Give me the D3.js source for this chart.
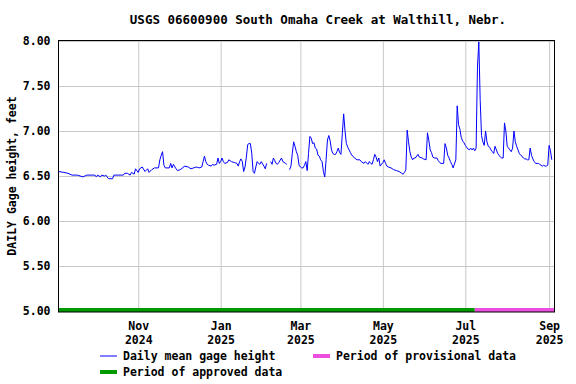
<!DOCTYPE html>
<html>
<head>
<meta charset="utf-8">
<script src="https://cdn.jsdelivr.net/npm/d3@7"></script>
<style>
  body { margin: 0; background: #fff; }
  text { font-family: "DejaVu Sans Mono", monospace; font-weight: bold; fill: #000; }
</style>
</head>
<body>
<script>
'use strict';

// daily mean gage height, feet
const dates = [
  "2024-09-03","2024-09-07","2024-09-10","2024-09-13","2024-09-17","2024-09-21","2024-09-24","2024-09-30",
  "2024-10-01","2024-10-02","2024-10-04","2024-10-05","2024-10-07","2024-10-08","2024-10-10","2024-10-13",
  "2024-10-14","2024-10-21","2024-10-22","2024-10-24","2024-10-26","2024-10-27","2024-10-29","2024-10-30",
  "2024-11-01","2024-11-02","2024-11-04","2024-11-06","2024-11-08","2024-11-09","2024-11-11","2024-11-13",
  "2024-11-16","2024-11-17","2024-11-18","2024-11-19","2024-11-20","2024-11-21","2024-11-24","2024-11-25",
  "2024-11-26","2024-11-27","2024-11-29","2024-11-30",
  "2024-12-02","2024-12-04","2024-12-05","2024-12-08","2024-12-10","2024-12-12","2024-12-14","2024-12-16",
  "2024-12-18","2024-12-19","2024-12-20","2024-12-21","2024-12-22","2024-12-23","2024-12-25","2024-12-26",
  "2024-12-27","2024-12-29","2024-12-30","2024-12-31",
  "2025-01-01","2025-01-02","2025-01-03","2025-01-04","2025-01-06","2025-01-07","2025-01-09","2025-01-11",
  "2025-01-13","2025-01-14","2025-01-15","2025-01-16","2025-01-17","2025-01-18","2025-01-19","2025-01-20",
  "2025-01-21","2025-01-22","2025-01-23","2025-01-24","2025-01-25","2025-01-26","2025-01-27","2025-01-28",
  "2025-01-29","2025-01-30","2025-01-31",
  "2025-02-02","2025-02-03","2025-02-04","2025-02-05","2025-02-06","2025-02-07","2025-02-08","2025-02-09",
  "2025-02-10","2025-02-11","2025-02-12","2025-02-13","2025-02-15","2025-02-16","2025-02-18","2025-02-19",
  "2025-02-20","2025-02-21","2025-02-22","2025-02-23","2025-02-24","2025-02-25","2025-02-26","2025-02-27",
  "2025-02-28",
  "2025-03-01","2025-03-02","2025-03-03","2025-03-04","2025-03-05","2025-03-06","2025-03-07","2025-03-08",
  "2025-03-09","2025-03-10","2025-03-11","2025-03-12","2025-03-13","2025-03-14","2025-03-15","2025-03-16",
  "2025-03-17","2025-03-18","2025-03-19","2025-03-20","2025-03-21","2025-03-22","2025-03-23","2025-03-24",
  "2025-03-25","2025-03-26","2025-03-27","2025-03-28","2025-03-29","2025-03-30","2025-03-31",
  "2025-04-01","2025-04-02","2025-04-03","2025-04-04","2025-04-05","2025-04-06","2025-04-07","2025-04-08",
  "2025-04-09","2025-04-10","2025-04-12","2025-04-14","2025-04-15","2025-04-17","2025-04-18","2025-04-20",
  "2025-04-21","2025-04-22","2025-04-23","2025-04-24","2025-04-25","2025-04-26","2025-04-27","2025-04-28",
  "2025-04-29","2025-04-30",
  "2025-05-01","2025-05-02","2025-05-03","2025-05-04","2025-05-05","2025-05-07","2025-05-09","2025-05-11",
  "2025-05-13","2025-05-15","2025-05-16","2025-05-17","2025-05-18","2025-05-19","2025-05-20","2025-05-21",
  "2025-05-22","2025-05-23","2025-05-24","2025-05-25","2025-05-27","2025-05-28","2025-05-30","2025-05-31",
  "2025-06-02","2025-06-03","2025-06-04","2025-06-05","2025-06-06","2025-06-07","2025-06-08","2025-06-10",
  "2025-06-11","2025-06-12","2025-06-13","2025-06-15","2025-06-16","2025-06-17","2025-06-18","2025-06-19",
  "2025-06-20","2025-06-21","2025-06-22","2025-06-24","2025-06-25","2025-06-26","2025-06-27","2025-06-28",
  "2025-06-29","2025-06-30",
  "2025-07-01","2025-07-02","2025-07-03","2025-07-04","2025-07-05","2025-07-06","2025-07-07","2025-07-08",
  "2025-07-09","2025-07-10","2025-07-11","2025-07-12","2025-07-13","2025-07-14","2025-07-15","2025-07-16",
  "2025-07-17","2025-07-18","2025-07-19","2025-07-20","2025-07-21","2025-07-22","2025-07-23","2025-07-24",
  "2025-07-25","2025-07-26","2025-07-27","2025-07-28","2025-07-29","2025-07-30","2025-07-31",
  "2025-08-01","2025-08-02","2025-08-03","2025-08-04","2025-08-05","2025-08-06","2025-08-07","2025-08-08",
  "2025-08-09","2025-08-10","2025-08-11","2025-08-12","2025-08-13","2025-08-14","2025-08-15","2025-08-16",
  "2025-08-17","2025-08-18","2025-08-19","2025-08-20","2025-08-21","2025-08-22","2025-08-24","2025-08-25",
  "2025-08-26","2025-08-27","2025-08-28","2025-08-29","2025-08-30","2025-08-31",
  "2025-09-01","2025-09-02","2025-09-03"
];
const gage = [
  6.55,6.54,6.53,6.51,6.51,6.49,6.51,6.51,
  6.49,6.51,6.49,6.51,6.50,6.51,6.47,6.47,
  6.51,6.51,6.53,6.53,6.51,6.54,6.52,6.58,
  6.54,6.58,6.60,6.55,6.58,6.54,6.57,6.59,
  6.59,6.68,6.73,6.77,6.62,6.59,6.59,6.64,
  6.59,6.63,6.58,6.56,
  6.57,6.59,6.61,6.60,6.58,6.59,6.60,6.59,
  6.60,6.66,6.72,6.66,6.63,6.62,6.61,6.63,
  6.62,6.63,6.70,6.64,
  6.66,6.70,6.66,6.64,6.65,6.68,6.66,6.65,
  6.64,6.61,6.66,6.69,6.66,6.55,6.60,6.71,
  6.85,6.86,6.86,6.75,6.55,6.53,6.60,6.66,
  6.64,6.63,6.66,
  6.61,6.58,6.64,null,null,6.66,6.63,6.70,
  6.67,6.64,6.63,6.65,6.70,6.66,6.64,6.63,
  null,6.57,6.61,6.75,6.88,6.83,6.77,6.73,
  6.62,
  6.60,6.59,6.59,6.62,6.66,6.56,6.75,6.94,
  6.92,6.86,6.87,6.81,6.80,6.73,6.72,6.68,
  6.66,6.55,6.49,6.68,6.90,6.95,6.89,6.79,
  6.75,6.74,6.74,6.77,6.81,6.76,6.74,
  6.97,7.19,7.00,6.86,6.82,6.79,6.76,6.73,
  6.72,6.70,6.68,6.68,6.66,6.64,6.66,6.63,
  6.66,6.64,6.63,6.68,6.74,6.71,6.66,6.70,
  6.61,6.63,
  6.65,6.68,6.64,6.61,6.60,6.59,6.57,6.56,
  6.55,6.53,6.52,6.54,6.57,7.01,6.88,6.77,
  6.71,6.68,6.70,6.70,6.74,6.71,6.70,6.69,
  6.68,6.98,6.90,6.79,6.76,6.71,6.70,6.70,
  6.67,6.65,6.64,6.64,6.86,6.81,6.73,6.70,
  6.66,6.63,6.59,6.68,7.28,7.07,7.02,6.93,
  6.89,6.87,
  6.84,6.82,6.80,6.79,6.81,6.79,6.81,6.78,
  6.81,7.71,7.99,7.35,6.95,6.88,6.84,7.00,
  6.88,6.83,6.82,6.79,6.77,6.75,6.83,6.79,
  6.75,6.73,6.71,6.70,6.70,7.09,7.00,
  6.83,6.81,6.79,6.77,6.81,7.00,6.88,6.83,
  6.79,6.75,6.73,6.72,6.70,6.69,6.69,6.68,
  6.68,6.81,6.73,6.69,6.66,6.64,6.64,6.63,
  6.62,6.61,6.62,6.61,6.61,6.62,
  6.84,6.78,6.68
];

const periodNames = ["approved", "provisional"];
const periodStart = ["2024-09-03", "2025-07-08"];
const periodEnd = ["2025-07-08", "2025-09-05"];
const periodColors = ["#009a00", "#ee4ee0"];

const xDomain = ["2024-09-03", "2025-09-05"];
const xTicks = ["2024-11-01", "2025-01-01", "2025-03-01", "2025-05-01", "2025-07-01", "2025-09-01"];
const yTicks = [5.0, 5.5, 6.0, 6.5, 7.0, 7.5, 8.0];

const title = "USGS 06600900 South Omaha Creek at Walthill, Nebr.";
const yLabel = "DAILY Gage height, feet";

const width = 576, height = 384;
const plotLeft = 58.5, plotRight = 554.5, plotTop = 41, plotBottom = 311;
const parse = d3.timeParse("%Y-%m-%d");

const svg = d3.select("body").append("svg")
    .attr("width", width)
    .attr("height", height);

const x = d3.scaleTime()
    .domain(xDomain.map(parse))
    .range([plotLeft, plotRight]);
const y = d3.scaleLinear()
    .domain([5, 8])
    .range([plotBottom, plotTop]);

// title
svg.append("text")
    .attr("x", 318)
    .attr("y", 24)
    .attr("text-anchor", "middle")
    .style("font-size", "12.5px")
    .text(title);

// y axis with grid
const gy = svg.append("g")
    .attr("transform", `translate(${plotLeft},0)`)
    .call(d3.axisLeft(y).tickValues(yTicks).tickFormat(d3.format(".2f"))
        .tickSize(-(plotRight - plotLeft)).tickPadding(8));
gy.select(".domain").remove();
gy.selectAll("line").attr("stroke", "#c8c8c8");
gy.selectAll("text").style("font-size", "11.5px").attr("fill", "#000");

// x axis with grid
const gx = svg.append("g")
    .attr("transform", `translate(0,${plotBottom + 1})`)
    .call(d3.axisBottom(x).tickValues(xTicks.map(parse))
        .tickSize(-(plotBottom + 1 - plotTop)).tickPadding(0));
gx.select(".domain").remove();
gx.selectAll("line").attr("stroke", "#c8c8c8");
gx.selectAll("text").each(function(d) {
  const t = d3.select(this).text(null).style("font-size", "11.5px").attr("fill", "#000").attr("dy", null).attr("y", 0);
  t.append("tspan").attr("x", 0).attr("y", 18).text(d3.timeFormat("%b")(d));
  t.append("tspan").attr("x", 0).attr("y", 32).text(d3.timeFormat("%Y")(d));
});

// approval period bars
svg.selectAll(".period")
  .data(periodNames)
  .enter().append("line")
    .attr("class", "period")
    .attr("x1", (d, i) => x(parse(periodStart[i])))
    .attr("x2", (d, i) => x(parse(periodEnd[i])))
    .attr("y1", plotBottom - 1)
    .attr("y2", plotBottom - 1)
    .attr("stroke", (d, i) => periodColors[i])
    .attr("stroke-width", 4);

// data line
const pts = dates.map((d, i) => ({ date: parse(d), v: gage[i] }));
svg.append("path")
    .datum(pts)
    .attr("fill", "none")
    .attr("stroke", "#0000ff")
    .attr("stroke-width", 1)
    .attr("d", d3.line()
        .defined(d => d.v != null)
        .x(d => x(d.date))
        .y(d => y(d.v)));

// frame
svg.append("rect")
    .attr("x", plotLeft)
    .attr("y", plotTop - 0.5)
    .attr("width", plotRight - plotLeft)
    .attr("height", plotBottom + 1.5 - plotTop)
    .attr("fill", "none")
    .attr("stroke", "#000");

// y label
svg.append("text")
    .attr("transform", `translate(16,${(plotTop + plotBottom) / 2}) rotate(-90)`)
    .attr("text-anchor", "middle")
    .style("font-size", "11.5px")
    .text(yLabel);

// legend
const legend = [
  { label: "Daily mean gage height", color: "#0000ff", w: 1, lx: 100, ly: 356 },
  { label: "Period of provisional data", color: periodColors[1], w: 4, lx: 313, ly: 356 },
  { label: "Period of approved data", color: periodColors[0], w: 4, lx: 100, ly: 372 }
];
const lg = svg.selectAll(".legend")
  .data(legend)
  .enter().append("g")
    .attr("class", "legend")
    .attr("transform", d => `translate(${d.lx},${d.ly})`);
lg.append("line")
    .attr("x1", 0).attr("x2", 17)
    .attr("stroke", d => d.color)
    .attr("stroke-width", d => d.w);
lg.append("text")
    .attr("x", 23)
    .attr("y", 4)
    .style("font-size", "11.5px")
    .text(d => d.label);
</script>
</body>
</html>
